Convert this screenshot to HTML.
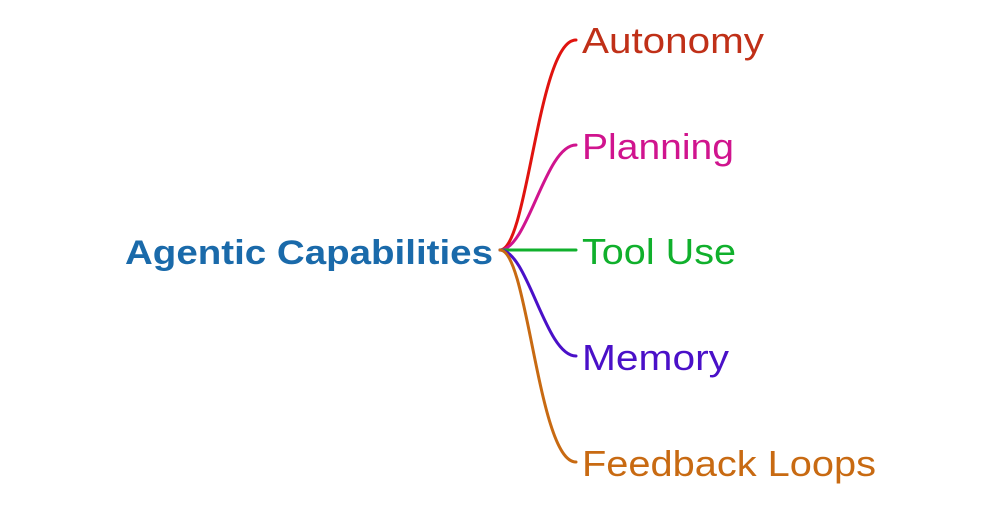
<!DOCTYPE html>
<html><head><style>
html,body{margin:0;padding:0;background:#fff;width:1000px;height:517px;overflow:hidden}
svg text{font-family:"Liberation Sans",sans-serif}
</style></head><body>
<svg width="1000" height="517" viewBox="0 0 1000 517" xmlns="http://www.w3.org/2000/svg">
<g fill="none" stroke-width="3" stroke-linecap="round">
<path d="M500,250 C528,250 538,40 576,40" stroke="#e0130f"/>
<path d="M500,250 C528,250 545,145 576,145" stroke="#d0148e"/>
<path d="M500,250 L576,250" stroke="#10b02c"/>
<path d="M500,250 C528,250 545,356 576,356" stroke="#4a10c8"/>
<path d="M500,250 C528,250 538,462 576,462" stroke="#c86a12"/>
</g>
<text x="125" y="264" font-size="34" font-weight="bold" fill="#1a6aaa" textLength="368" lengthAdjust="spacingAndGlyphs">Agentic Capabilities</text>
<text x="582" y="53" font-size="36" fill="#c03018" textLength="182" lengthAdjust="spacingAndGlyphs">Autonomy</text>
<text x="582" y="159" font-size="36" fill="#d0148e" textLength="152" lengthAdjust="spacingAndGlyphs">Planning</text>
<text x="582" y="264" font-size="36" fill="#10b02c" textLength="154" lengthAdjust="spacingAndGlyphs">Tool Use</text>
<text x="582" y="370" font-size="36" fill="#4a10c8" textLength="147" lengthAdjust="spacingAndGlyphs">Memory</text>
<text x="582" y="476" font-size="36" fill="#c86a12" textLength="294" lengthAdjust="spacingAndGlyphs">Feedback Loops</text>
</svg>
</body></html>
